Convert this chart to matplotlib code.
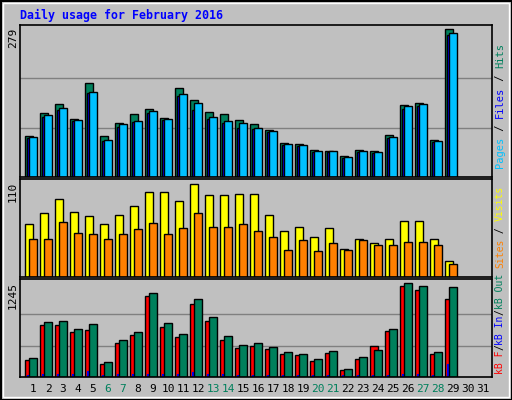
import matplotlib
matplotlib.use("Agg")
import matplotlib.pyplot as plt
import numpy as np
from matplotlib.patches import Rectangle

days = list(range(1, 32))
hits_px  = [135,113,104,118,83,135,123,114,108,117,88,99,111,114,119,124,129,142,143,149,150,155,149,150,134,105,103,139,29]
files_px = [137,116,109,120,92,140,126,121,112,119,96,109,118,122,127,128,132,144,145,151,151,157,151,152,137,108,106,141,35]
pages_px = [136,115,107,119,91,139,124,120,110,118,94,102,116,120,122,127,130,143,144,150,150,156,150,151,136,106,104,140,33]
hits  = [round((176-y)*279/147) for y in hits_px]
files = [round((176-y)*279/147) for y in files_px]
pages = [round((176-y)*279/147) for y in pages_px]

visits_px = [224,213,199,212,216,224,214,206,192,192,201,184,195,195,194,194,215,230,227,236,228,248,239,242,238,221,221,238,260]
sites_px  = [238,238,222,232,234,238,234,229,223,234,228,213,226,226,224,230,236,249,240,250,242,249,240,245,244,241,241,245,263]
visits = [round((276-y)*110/93) for y in visits_px]
sites  = [round((276-y)*110/93) for y in sites_px]

kbf_z  = [268,166,166,187,181,280,217,196,82,172,202,106,154,208,232,226,235,250,253,271,247,298,265,226,184,52,64,250,91]
kbo_z  = [262,157,154,178,163,274,208,187,73,160,193,91,142,199,223,217,229,244,250,265,241,295,259,238,178,43,52,244,55]
kbi_z  = [310,307,307,307,300,310,307,307,307,307,307,303,307,307,310,310,310,310,310,312,310,312,312,312,310,307,307,310,280]
kbf = [round((317-z)/274*1245) for z in kbf_z]
kbo = [round((317-z)/274*1245) for z in kbo_z]
kbi = [round((317-z)/274*1245) for z in kbi_z]

W, H = 512, 400
fig = plt.figure(figsize=(W/100, H/100), dpi=100)
fig.patch.set_facecolor("#c0c0c0")
fig.add_artist(Rectangle((0.5/W, 0.5/H), 1-1/W, 1-1/H, transform=fig.transFigure, fill=False, ec="black", lw=1.5))
fig.add_artist(Rectangle((3/W, 3/H), 1-6/W, 1-6/H, transform=fig.transFigure, fill=False, ec="white", lw=1))

def mkax(top, bottom):
    ax = fig.add_axes([20/W, 1-bottom/H, 472/W, (bottom-top)/H])
    ax.set_facecolor("#c0c0c0")
    ax.set_xlim(1-13/15, 1+459/15)
    ax.set_xticks([]); ax.set_yticks([])
    for s in ax.spines.values():
        s.set_color("black"); s.set_linewidth(1.2)
    return ax

px = 1/15
mono = "DejaVu Sans Mono"
d = np.array(days[:29])

ax1 = mkax(25, 177)
ax1.set_ylim(0, 279*151/147)
for g in (279/3, 279*2/3):
    ax1.axhline(g, color="#808080", lw=1, zorder=0)
ax1.bar(d-8*px, hits, width=8*px, align="edge", color="#00805c", ec="black", lw=1)
ax1.bar(d-6*px, files, width=8*px, align="edge", color="#0000ff", ec="black", lw=1)
ax1.bar(d-4*px, pages, width=8*px, align="edge", color="#00c0ff", ec="black", lw=1)

ax2 = mkax(179, 277)
ax2.set_ylim(0, 110*97/93)
ax2.bar(d-8*px, visits, width=8*px, align="edge", color="#ffff00", ec="black", lw=1)
ax2.bar(d-4*px, sites, width=8*px, align="edge", color="#ff8000", ec="black", lw=1)

ax3 = mkax(279, 377)
ax3.set_ylim(0, 1245*95/91.4)
for g in (1245/3, 1245*2/3):
    ax3.axhline(g, color="#808080", lw=1, zorder=0)
ax3.bar(d-8*px, kbf, width=8*px, align="edge", color="#ff0000", ec="black", lw=1)
ax3.bar(d-6*px, kbi, width=2*px, align="edge", color="#0000ff", ec="none", lw=0)
ax3.bar(d-4*px, kbo, width=8*px, align="edge", color="#00805c", ec="black", lw=1)

fig.text(20/W, 1-15/H, "Daily usage for February 2016", color="#0000ff", family=mono,
         weight="bold", fontsize=8.4, va="center", ha="left")
for lab, y in (("279", 28), ("110", 182), ("1245", 282)):
    fig.text(13/W, 1-y/H, lab, rotation=90, family=mono, fontsize=8, ha="center", va="top")

weekend = {6, 7, 13, 14, 20, 21, 27, 28}
for i in days:
    fig.text((33+15*(i-1))/W, 1-389/H, str(i), family=mono, fontsize=8, ha="center", va="center",
             color="#00805c" if i in weekend else "black")

renderer = fig.canvas.get_renderer()
def vlabel(parts, x, ybottom, fs):
    y = ybottom
    for txt, col in parts:
        t = fig.text(x/W, 1-y/H, txt, rotation=90, family=mono, fontsize=fs, color=col,
                     ha="center", va="bottom")
        y -= t.get_window_extent(renderer).height
vlabel([("Pages", "#00c0ff"), (" / ", "black"), ("Files", "#0000ff"), (" / ", "black"), ("Hits", "#00805c")], 500, 168, 7.5)
vlabel([("Sites", "#ff8000"), (" / ", "black"), ("Visits", "#ffff00")], 500, 268, 7)
vlabel([("kB F", "#ff0000"), ("/", "black"), ("kB In", "#0000ff"), ("/", "black"), ("kB Out", "#00805c")], 500, 374, 7)

fig.savefig("out.png", dpi=100, facecolor=fig.get_facecolor())
